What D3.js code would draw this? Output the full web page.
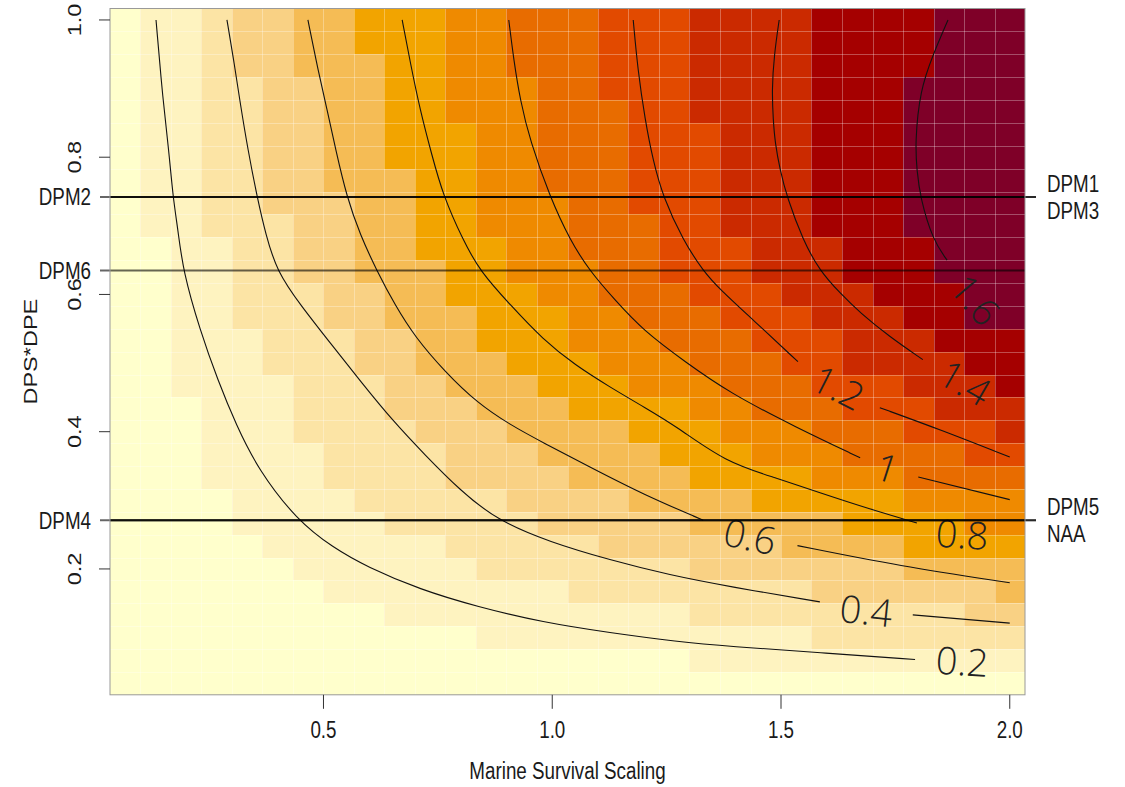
<!DOCTYPE html>
<html>
<head>
<meta charset="utf-8">
<script src="https://cdn.jsdelivr.net/npm/d3@7"></script>
<style>
  body { margin: 0; background: #fff; }
  svg { display: block; font-family: "Liberation Sans", Arial, sans-serif; }
</style>
</head>
<body>
<svg id="chart" width="1125" height="787"></svg>
<script>
/*
** Data
*/
// cell centres of the image grid
var survival = [0.0667, 0.1333, 0.2, 0.2667, 0.3333, 0.4, 0.4667, 0.5333, 0.6, 0.6667,
                0.7333, 0.8, 0.8667, 0.9333, 1.0, 1.0667, 1.1333, 1.2, 1.2667, 1.3333,
                1.4, 1.4667, 1.5333, 1.6, 1.6667, 1.7333, 1.8, 1.8667, 1.9333, 2.0];
var dpsDpe = [0.0333, 0.0667, 0.1, 0.1333, 0.1667, 0.2, 0.2333, 0.2667, 0.3, 0.3333,
              0.3667, 0.4, 0.4333, 0.4667, 0.5, 0.5333, 0.5667, 0.6, 0.6333, 0.6667,
              0.7, 0.7333, 0.7667, 0.8, 0.8333, 0.8667, 0.9, 0.9333, 0.9667, 1.0];

// colour class of every cell (0..b), one string per row, top row (DPS*DPE = 1) first
var levelRows = [
    "01123344555667778889999aaaabbb"
  , "01123344555667778889999aaaabbb"
  , "01123344455667778889999aaaabbb"
  , "01122334455666778889999aaabbbb"
  , "01122334455666777889999aaabbbb"
  , "01122334455566777888999aaabbbb"
  , "01122334455566777888999aaabbbb"
  , "01122334445566777888999aaabbbb"
  , "01122333445566677888999aaabbbb"
  , "01122233445566677788999aaabbbb"
  , "001122334455566777888999aaabbb"
  , "001122334445566677888999aaabbb"
  , "0011222334455566777888999aaabb"
  , "00112223344455566777888999aabb"
  , "001112223344555666777888999aaa"
  , "0011122233444555666777889999aa"
  , "00111122233444555666777888999a"
  , "000111222333444555566777888999"
  , "000111222233344445556667778889"
  , "000111122223334444555666777788"
  , "000111122223333444455556667777"
  , "000011112222233334444555556666"
  , "000011111222223333344444555566"
  , "000001111112222233333344445555"
  , "000000111111222222233333334444"
  , "000000011111111222222223333334"
  , "000000000111111111122222222233"
  , "000000000000111111111112222222"
  , "000000000000000000011111111111"
  , "000000000000000000000000000000"
];

var palette = ["#FFFFCC", "#FEF3C0", "#FCE4A5", "#F9D184", "#F5BC55", "#F2A400",
               "#EF8A00", "#E86C00", "#E24A00", "#CB2A00", "#A50000", "#7F0028"];

// contour lines, [survival, DPS*DPE]
var contour02 = [[0.134,1.000],[0.149,0.883],[0.162,0.810],[0.171,0.742],[0.182,0.694],[0.193,0.634],
                 [0.230,0.548],[0.269,0.475],[0.309,0.410],[0.357,0.345],[0.442,0.271],
                 [0.521,0.231],[0.595,0.203],[0.711,0.170],[0.836,0.145],[0.980,0.122],[1.126,0.107],
                 [1.273,0.094],[1.389,0.087],[1.585,0.078],[1.793,0.068]];
var contour04 = [[0.289,1.000],[0.304,0.941],[0.317,0.883],[0.335,0.810],[0.355,0.742],[0.374,0.687],
                 [0.398,0.634],[0.449,0.585],[0.521,0.524],[0.584,0.471],[0.650,0.417],[0.722,0.366],
                 [0.798,0.315],[0.879,0.271],[0.995,0.239],[1.126,0.213],[1.257,0.191],[1.389,0.174],
                 [1.585,0.152]];
var contour04b = [[1.788,0.133],[2.000,0.121]];
var contour06 = [[0.466,1.000],[0.488,0.927],[0.508,0.869],[0.527,0.810],[0.551,0.742],[0.580,0.687],
                 [0.617,0.634],[0.656,0.585],[0.700,0.538],[0.766,0.487],[0.836,0.442],[0.908,0.410],
                 [0.980,0.384],[1.087,0.347],[1.198,0.309],[1.330,0.271]];
var contour06b = [[1.536,0.234],[1.760,0.204],[2.000,0.180]];
var contour08 = [[0.672,1.000],[0.690,0.937],[0.711,0.869],[0.737,0.803],[0.761,0.745],[0.805,0.679],
                 [0.842,0.634],[0.908,0.585],[0.980,0.534],[1.050,0.497],[1.126,0.465],[1.203,0.435],
                 [1.273,0.407],[1.378,0.356],[1.487,0.333],[1.585,0.311],[1.695,0.287],[1.797,0.267]];
var contour10 = [[0.905,1.000],[0.916,0.941],[0.930,0.883],[0.951,0.825],[0.995,0.742],[1.039,0.679],
                 [1.082,0.634],[1.137,0.592],[1.198,0.548],[1.290,0.502],[1.389,0.456],[1.531,0.407],
                 [1.673,0.362]];
var contour10b = [[1.800,0.334],[2.000,0.301]];
var contour12 = [[1.177,1.000],[1.187,0.927],[1.203,0.854],[1.220,0.796],[1.242,0.742],[1.286,0.679],
                 [1.330,0.634],[1.367,0.607],[1.439,0.563],[1.537,0.502]];
var contour12b = [[1.716,0.435],[1.848,0.403],[2.000,0.363]];
var contour14 = [[1.496,1.000],[1.485,0.949],[1.480,0.898],[1.483,0.854],[1.487,0.821],[1.498,0.781],
                 [1.513,0.742],[1.548,0.679],[1.585,0.634],[1.629,0.602],[1.673,0.573],[1.738,0.538],
                 [1.810,0.505]];
var contour16 = [[1.865,1.000],[1.832,0.949],[1.804,0.898],[1.793,0.821],[1.797,0.781],[1.804,0.742],
                 [1.832,0.679],[1.863,0.650]];

var contourLabels = [
    { text: "0.2", x: 1.896, y: 0.065, angle: 4 }
  , { text: "0.4", x: 1.686, y: 0.139, angle: 6 }
  , { text: "0.6", x: 1.432, y: 0.247, angle: 12 }
  , { text: "0.8", x: 1.896, y: 0.250, angle: 4 }
  , { text: "1",   x: 1.732, y: 0.347, angle: 18 }
  , { text: "1.2", x: 1.625, y: 0.464, angle: 27 }
  , { text: "1.4", x: 1.902, y: 0.471, angle: 30 }
  , { text: "1.6", x: 1.924, y: 0.592, angle: 50 }
];

// reference lines, named on the left or on the right axis
var leftRefs = [
    { name: "DPM2", y: 0.742 }
  , { name: "DPM6", y: 0.635 }
  , { name: "DPM4", y: 0.271 }
];
var rightRefs = [
    { name: "DPM1", y: 0.742, side: -1 }
  , { name: "DPM3", y: 0.742, side: 1 }
  , { name: "DPM5", y: 0.271, side: -1 }
  , { name: "NAA",  y: 0.271, side: 1 }
];

var xTicks = [0.5, 1.0, 1.5, 2.0];
var yTicks = [0.2, 0.4, 0.6, 0.8, 1.0];

/*
** Layout
*/
var svg = d3.select("#chart")
  , plot = { left: 110, right: 1025, top: 8.5, bottom: 694.8 }
  , dx = survival[1] - survival[0]
  , dy = dpsDpe[1] - dpsDpe[0]
  , x = d3.scaleLinear()
        .domain([survival[0] - dx / 2, survival[survival.length - 1] + dx / 2])
        .range([plot.left, plot.right])
  , y = d3.scaleLinear()
        .domain([dpsDpe[0] - dy / 2, dpsDpe[dpsDpe.length - 1] + dy / 2])
        .range([plot.bottom, plot.top])
  , colour = d3.scaleOrdinal().domain(d3.range(palette.length)).range(palette)
  , squeeze = 0.8 // text in the picture is narrow
;

// pixel edges of the cells, shared by neighbours so no gaps show
function edges(values, scale, step) {
    var e = [scale(values[0] - step / 2)];
    for (var i = 1; i < values.length; i++) e.push(scale((values[i - 1] + values[i]) / 2));
    e.push(scale(values[values.length - 1] + step / 2));
    return e.map(Math.round);
}
var xEdge = edges(survival, x, dx)
  , yEdge = edges(dpsDpe, y, dy)
;

// one record per cell
var cells = [];
levelRows.forEach(function(row, r) {
    var j = dpsDpe.length - 1 - r;
    row.split("").forEach(function(ch, c) {
        cells.push({ i: c, j: j, level: parseInt(ch, 12) });
    });
});

/*
** Heat map
*/
svg.append("g")
    .attr("class", "cells")
    .attr("shape-rendering", "crispEdges")
  .selectAll("rect")
    .data(cells)
  .enter().append("rect")
    .attr("x", function(d) { return xEdge[d.i]; })
    .attr("y", function(d) { return yEdge[d.j + 1]; })
    .attr("width", function(d) { return xEdge[d.i + 1] - xEdge[d.i]; })
    .attr("height", function(d) { return yEdge[d.j] - yEdge[d.j + 1]; })
    .attr("fill", function(d) { return colour(d.level); })
;

// faint white seams between the cells
var seams = svg.append("g")
    .attr("stroke", "#fff")
    .attr("stroke-opacity", 0.3)
    .attr("stroke-width", 1)
;
seams.selectAll(".vs")
    .data(xEdge.slice(1, -1))
  .enter().append("line")
    .attr("x1", function(d) { return d + 0.5; })
    .attr("x2", function(d) { return d + 0.5; })
    .attr("y1", plot.top)
    .attr("y2", plot.bottom)
;
seams.selectAll(".hs")
    .data(yEdge.slice(1, -1))
  .enter().append("line")
    .attr("y1", function(d) { return d + 0.5; })
    .attr("y2", function(d) { return d + 0.5; })
    .attr("x1", plot.left)
    .attr("x2", plot.right)
;

/*
** Contours
*/
var line = d3.line()
    .x(function(d) { return x(d[0]); })
    .y(function(d) { return y(d[1]); })
    .curve(d3.curveBasis)
;
svg.append("g")
    .attr("class", "contours")
    .attr("fill", "none")
    .attr("stroke", "#111")
    .attr("stroke-width", 1.1)
  .selectAll("path")
    .data([contour02, contour04, contour04b, contour06, contour06b, contour08,
           contour10, contour10b, contour12, contour12b, contour14, contour16])
  .enter().append("path")
    .attr("d", line)
;
svg.append("g")
    .attr("class", "contour-labels")
  .selectAll("text")
    .data(contourLabels)
  .enter().append("text")
    .attr("transform", function(d) {
        return "translate(" + x(d.x) + "," + y(d.y) + ") rotate(" + d.angle + ")";
      })
    .attr("text-anchor", "middle")
    .attr("dy", "0.36em")
    .style("font-family", "'Open Sans', 'DejaVu Sans', sans-serif")
    .style("font-weight", 300)
    .style("font-size", "38px")
    .attr("fill", "#222")
    .text(function(d) { return d.text; })
;

/*
** Reference lines
*/
var refs = svg.append("g")
    .attr("class", "refs")
    .attr("stroke", "#000")
    .attr("stroke-opacity", 0.6)
    .attr("stroke-width", 2)
;
refs.selectAll(".left")
    .data(leftRefs)
  .enter().append("line")
    .attr("x1", plot.left - 10)
    .attr("x2", plot.right)
    .attr("y1", function(d) { return y(d.y); })
    .attr("y2", function(d) { return y(d.y); })
;
refs.selectAll(".right")
    .data(rightRefs)
  .enter().append("line")
    .attr("x1", plot.left)
    .attr("x2", plot.right + 11)
    .attr("y1", function(d) { return y(d.y); })
    .attr("y2", function(d) { return y(d.y); })
;

function label(g, tx, ty, txt, anchor, rot) {
    return g.append("text")
        .attr("transform", "translate(" + tx + "," + ty + ")" + (rot ? " rotate(" + rot + ")" : "")
            + (rot ? " scale(1," + squeeze + ")" : " scale(" + squeeze + ",1)"))
        .attr("text-anchor", anchor)
        .attr("dy", "0.36em")
        .attr("fill", "#1a1a1a")
        .style("font-size", "23.5px")
        .text(txt)
    ;
}

var texts = svg.append("g");
leftRefs.forEach(function(d) { label(texts, 91, y(d.y), d.name, "end"); });
rightRefs.forEach(function(d) { label(texts, 1047, y(d.y) + d.side * 13.5, d.name, "start"); });

/*
** Axes and box
*/
svg.append("rect")
    .attr("x", plot.left)
    .attr("y", plot.top)
    .attr("width", plot.right - plot.left)
    .attr("height", plot.bottom - plot.top)
    .attr("fill", "none")
    .attr("stroke", "#999")
    .attr("stroke-width", 1)
;
var axes = svg.append("g").attr("stroke", "#333");
axes.selectAll(".xt")
    .data(xTicks)
  .enter().append("line")
    .attr("x1", function(d) { return x(d); })
    .attr("x2", function(d) { return x(d); })
    .attr("y1", plot.bottom)
    .attr("y2", plot.bottom + 14)
;
axes.selectAll(".yt")
    .data(yTicks)
  .enter().append("line")
    .attr("y1", function(d) { return y(d); })
    .attr("y2", function(d) { return y(d); })
    .attr("x1", plot.left)
    .attr("x2", plot.left - 11)
;
xTicks.forEach(function(d) { label(texts, x(d), 730, d3.format(".1f")(d), "middle"); });
yTicks.forEach(function(d) { label(texts, 74, y(d), d3.format(".1f")(d), "middle", -90); });

label(texts, (plot.left + plot.right) / 2, 771, "Marine Survival Scaling", "middle");
label(texts, 30, (plot.top + plot.bottom) / 2, "DPS*DPE", "middle", -90);
</script>
</body>
</html>
